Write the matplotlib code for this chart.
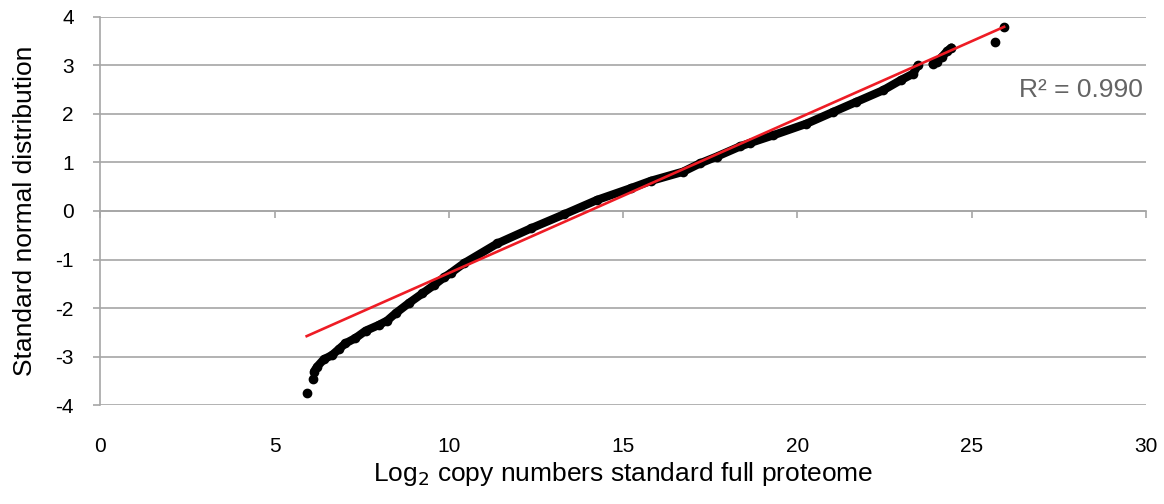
import matplotlib
matplotlib.use("Agg")
import matplotlib.pyplot as plt
import numpy as np

plt.rcParams['font.family'] = ['Liberation Sans', 'DejaVu Sans']
plt.rcParams['axes.unicode_minus'] = False

# lower tail and main body of the Q-Q curve
main_x = [6.13, 6.22, 6.41, 6.65, 6.84, 7.03, 7.32, 7.61, 7.99, 8.23, 8.47, 8.85,
          9.24, 9.57, 9.86, 10.05, 10.43, 11.39, 12.35, 13.30, 14.26, 15.22, 15.79,
          16.72, 17.20, 17.68, 18.35, 18.63, 19.30, 20.26, 21.02, 21.69, 22.46,
          22.97, 23.32, 23.45]
main_y = [-3.31, -3.21, -3.06, -2.97, -2.85, -2.73, -2.62, -2.47, -2.35, -2.26, -2.11, -1.90,
          -1.70, -1.53, -1.37, -1.28, -1.08, -0.67, -0.36, -0.07, 0.23, 0.47, 0.62,
          0.81, 0.98, 1.12, 1.33, 1.40, 1.56, 1.80, 2.04, 2.25, 2.49,
          2.70, 2.83, 3.00]
# small cluster near the top
upper_x = [23.88, 24.00, 24.15, 24.30, 24.42]
upper_y = [3.03, 3.08, 3.18, 3.30, 3.37]
# isolated points
single_x = [5.93, 6.10, 25.68, 25.92]
single_y = [-3.76, -3.47, 3.49, 3.80]

# linear trend line
trend_slope = 0.3187
trend_intercept = -4.467
trend_range = [5.92, 25.93]
r2_text = "R² = 0.990"

grid_c = '#a6a6a6'

fig = plt.figure(figsize=(11.64, 5.04), dpi=100)
ax = fig.add_axes([0.0862, 0.1964, 0.8983, 0.7699])

ax.plot(main_x, main_y, color='black', lw=6, solid_capstyle='round', zorder=3)
ax.plot(main_x, main_y, 'o', color='black', ms=7, mew=0, zorder=3)
ax.plot(upper_x, upper_y, color='black', lw=6, solid_capstyle='round', zorder=3)
ax.plot(upper_x, upper_y, 'o', color='black', ms=7, mew=0, zorder=3)
ax.plot(single_x, single_y, 'o', color='black', ms=6, zorder=3)

tx = np.array(trend_range)
ax.plot(tx, trend_slope * tx + trend_intercept, color='#ee1c25', lw=1.9, zorder=4)

ax.text(29.9, 2.5, r2_text, ha='right', va='center', fontsize=19, color='#646464')

ax.set_xlim(0, 30)
ax.set_ylim(-4, 4)
ax.set_xticks(range(0, 31, 5))
ax.set_yticks(range(-4, 5))

ax.grid(axis='y', color=grid_c, lw=1.2)
ax.set_axisbelow(True)
for s in ['top', 'right', 'bottom']:
    ax.spines[s].set_visible(False)
ax.spines['left'].set_color(grid_c)
ax.spines['left'].set_linewidth(1.2)

ax.tick_params(axis='y', direction='out', length=5, width=1.2, color=grid_c,
               labelsize=15, pad=14)
ax.tick_params(axis='x', length=0, labelsize=15, pad=23)

# horizontal axis crossing at y = 0, with small ticks
sec = ax.secondary_xaxis(0.5)
sec.set_alignment('bottom')
sec.set_xticks(range(0, 31, 5))
sec.tick_params(axis='x', direction='out', length=5, width=1.2, color=grid_c,
                labelbottom=False, labeltop=False)
sec.spines['bottom'].set_color(grid_c)
sec.spines['bottom'].set_linewidth(1.2)

ax.set_xlabel('Log$_2$ copy numbers standard full proteome', fontsize=19, labelpad=3)
ax.set_ylabel('Standard normal distribution', fontsize=19, labelpad=13)

fig.savefig('out.png', dpi=100)
